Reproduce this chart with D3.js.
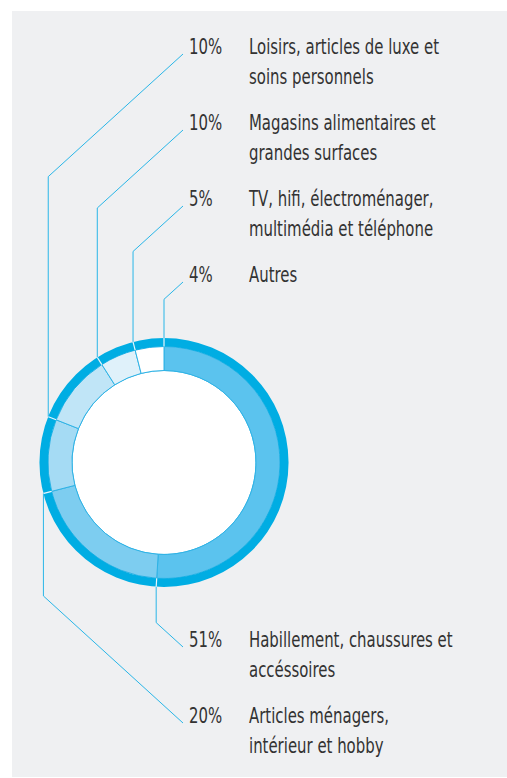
<head>
    <script src="https://d3js.org/d3.v7.min.js"></script>
    <style>
        body { margin: 0; background: #fff; }
        text { font-family: "DejaVu Sans Condensed", "DejaVu Sans", sans-serif; fill: #333; }
    </style>
</head>

<body>
    <div id="app"></div>
</body>

<script>
    // segments clockwise from 12 o'clock
    const categories = [
        ["Habillement, chaussures et", "accéssoires"],
        ["Articles ménagers,", "intérieur et hobby"],
        ["Loisirs, articles de luxe et", "soins personnels"],
        ["Magasins alimentaires et", "grandes surfaces"],
        ["TV, hifi, électroménager,", "multimédia et téléphone"],
        ["Autres"]
    ];
    const values = [51, 20, 10, 10, 5, 4];
    const colors = ["#5bc3ee", "#7dcdf0", "#a5dbf4", "#c0e5f7", "#dff1fa", "#ffffff"];
    // label row for each segment (top block 0-3, bottom block 0-1)
    const labelSide = ["bottom", "bottom", "top", "top", "top", "top"];
    const labelRow = [0, 1, 0, 1, 2, 3];

    const W = 507, H = 778;
    const cx = 164, cy = 462.5;
    const rIn = 92, rMid = 116, rOut = 124.5;
    const fs = 21, sx = 0.79; // squeeze text horizontally

    const svg = d3.select("#app").append("svg")
        .attr("width", W).attr("height", H);

    svg.append("rect")
        .attr("x", 12).attr("y", 11)
        .attr("width", W - 12).attr("height", 766)
        .attr("fill", "#eff0f2");

    const pie = d3.pie().sort(null).value(d => d)(values);
    const g = svg.append("g").attr("transform", `translate(${cx},${cy})`);

    // inner white disc
    g.append("circle").attr("r", rIn).attr("fill", "#fff")
        .attr("stroke", "#2fb3e6").attr("stroke-width", 1);

    const arcSeg = d3.arc().innerRadius(rIn).outerRadius(rMid);
    g.selectAll("path.seg").data(pie).enter().append("path")
        .attr("class", "seg")
        .attr("d", arcSeg)
        .attr("fill", (d, i) => colors[i])
        .attr("stroke", "#2fb3e6")
        .attr("stroke-width", 1);

    // outer dark band
    g.append("path")
        .attr("d", d3.arc().innerRadius(rMid).outerRadius(rOut).startAngle(0).endAngle(2 * Math.PI)())
        .attr("fill", "#00ade3");

    const pt = (a, r) => [r * Math.sin(a), -r * Math.cos(a)];

    // white cuts in the band at each boundary
    g.selectAll("line.cut").data(pie).enter().append("line")
        .attr("class", "cut")
        .attr("x1", d => pt(d.endAngle, rMid)[0]).attr("y1", d => pt(d.endAngle, rMid)[1])
        .attr("x2", d => pt(d.endAngle, rOut + 0.5)[0]).attr("y2", d => pt(d.endAngle, rOut + 0.5)[1])
        .attr("stroke", "#e8f6fc").attr("stroke-width", 1.2);

    // labels
    const topY = d3.scaleLinear().domain([0, 1]).range([54, 130]);
    const botY = d3.scaleLinear().domain([0, 1]).range([647, 723]);
    const labelX = 183, pctX = 189, txtX = 249, lineH = 30, slope = 0.91;

    pie.forEach((d, i) => {
        const p = pt(d.endAngle, rOut);
        const x0 = cx + p[0], y0 = cy + p[1];
        const top = labelSide[i] === "top";
        const ly = top ? topY(labelRow[i]) : botY(labelRow[i]);
        const bendY = top ? ly + slope * (labelX - x0) : ly - slope * (labelX - x0);

        svg.append("path")
            .attr("d", d3.line()([[x0, y0], [x0, bendY], [labelX, ly]]))
            .attr("fill", "none")
            .attr("stroke", "#29b6e8")
            .attr("stroke-width", 1);

        svg.append("text")
            .attr("transform", `translate(${pctX},${ly}) scale(${sx},1)`)
            .attr("font-size", fs)
            .text(values[i] + "%");

        categories[i].forEach((line, k) => {
            svg.append("text")
                .attr("transform", `translate(${txtX},${ly + k * lineH}) scale(${sx},1)`)
                .attr("font-size", fs)
                .text(line);
        });
    });
</script>
